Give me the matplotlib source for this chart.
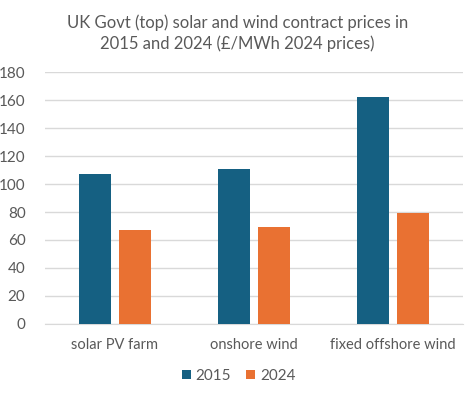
import numpy as np
import matplotlib
matplotlib.use("Agg")
import matplotlib.pyplot as plt

categories = ["solar PV farm", "onshore wind", "fixed offshore wind"]
prices_2015 = [107, 111, 162]
prices_2024 = [67, 69, 79]
series_labels = ["2015", "2024"]
yticks = [0, 20, 40, 60, 80, 100, 120, 140, 160, 180]

plt.rcParams["font.family"] = ["Lato", "DejaVu Sans"]

fig = plt.figure(figsize=(4.77, 3.97), dpi=100)
ax = fig.add_axes([0.0943, 0.1839, 0.8763, 0.6347])

x = np.arange(len(categories))
w = 0.23
off = 0.1436
ax.bar(x - off, prices_2015, width=w, color="#156082", label=series_labels[0], zorder=3)
ax.bar(x + off, prices_2024, width=w, color="#E97132", label=series_labels[1], zorder=3)

ax.set_xlim(-0.5, len(categories) - 0.5)
ax.set_ylim(0, 180)
ax.set_yticks(yticks)
ax.set_xticks(x)
ax.set_xticklabels(categories)
ax.grid(axis="y", color="#D9D9D9", linewidth=1, zorder=0)
for s in ["top", "right", "left"]:
    ax.spines[s].set_visible(False)
ax.spines["bottom"].set_color("#D9D9D9")
ax.tick_params(axis="both", length=0, colors="#595959", labelsize=11)
ax.tick_params(axis="x", labelsize=10.5, pad=10)
ax.tick_params(axis="y", pad=14)

fig.text(0.498, 0.917, "UK Govt (top) solar and wind contract prices in\n2015 and 2024 (£/MWh 2024 prices)",
         ha="center", va="center", fontsize=12, color="#595959", linespacing=1.35)

fig.legend(loc="center", bbox_to_anchor=(0.5, 0.053), ncol=2, frameon=False,
           fontsize=11, labelcolor="#595959", handlelength=0.6, handleheight=0.6,
           handletextpad=0.3, columnspacing=1.0)

fig.savefig("out.png", dpi=100)
